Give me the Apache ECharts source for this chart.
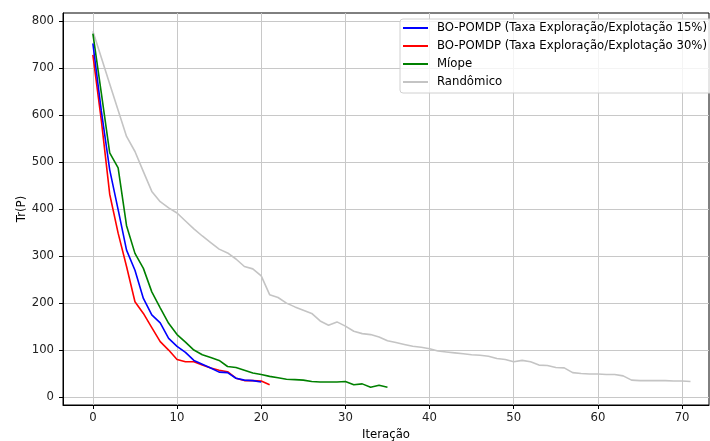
<!DOCTYPE html>
<html>
<head>
<meta charset="utf-8">
<script src="https://cdn.jsdelivr.net/npm/echarts@6/dist/echarts.min.js"></script>
<style>html,body{margin:0;padding:0;background:#fff}#c{width:710px;height:441px}</style>
</head>
<body>
<div id="c"></div>
<script>
const seriesNames = [
  'BO-POMDP (Taxa Exploração/Explotação 15%)',
  'BO-POMDP (Taxa Exploração/Explotação 30%)',
  'Míope',
  'Randômico'
];
const bo15 = [753, 610, 484, 399, 313, 270, 210, 175, 158, 125, 108, 95, 78, 70, 62, 53, 52, 40, 36, 35, 32];
const bo30 = [729, 590, 432, 349, 278, 203, 178, 148, 118, 100, 80, 75, 75, 68, 62, 57, 54, 40, 35, 35, 34, 26];
const miope = [774, 648, 520, 488, 365, 306, 274, 224, 190, 157, 133, 117, 100, 90, 84, 78, 65, 63, 57, 51, 48, 44, 41, 38, 37, 36, 33, 32, 32, 32, 33, 26, 28, 21, 25, 21];
const random = [779, 723, 667, 611, 555, 523, 480, 438, 416, 403, 392, 375, 358, 343, 329, 315, 307, 294, 278, 273, 258, 218, 212, 200, 192, 185, 178, 162, 153, 160, 151, 140, 135, 133, 128, 120, 116, 112, 108, 106, 103, 98, 96, 94, 92, 90, 89, 87, 82, 80, 75, 78, 75, 68, 67, 63, 62, 52, 50, 49, 49, 48, 48, 45, 36, 35, 35, 35, 35, 34, 34, 33];
const xTicks = [0, 10, 20, 30, 40, 50, 60, 70];
const yTicks = [0, 100, 200, 300, 400, 500, 600, 700, 800];
const colors = ['#0000ff', '#ff0000', '#008000', '#c4c4c4'];

function pairs(arr) { return arr.map((v, i) => [i, v]); }
const allData = [bo15, bo30, miope, random];
const font = 'DejaVu Sans';
const fs = 11.7;

const chart = echarts.init(document.getElementById('c'), null, {renderer: 'canvas'});
chart.setOption({
  animation: false,
  backgroundColor: '#fff',
  grid: {left: 63, right: 1, top: 13, bottom: 36, show: true, borderColor: '#000', borderWidth: 1,
         backgroundColor: 'transparent', containLabel: false, outerBoundsMode: 'none'},
  legend: {
    orient: 'vertical', left: 400, top: 19,
    padding: [2, 6, 4, 3],
    itemWidth: 25, itemHeight: 2, itemGap: 4,
    icon: 'rect',
    backgroundColor: 'rgba(255,255,255,0.8)',
    borderColor: '#d0d0d0', borderWidth: 1, borderRadius: 3,
    textStyle: {fontFamily: font, fontSize: fs, color: '#000', lineHeight: 14, padding: [0, 0, 0, 4]},
    data: seriesNames
  },
  xAxis: {
    type: 'value', min: -3.55, max: 73.2,
    name: 'Iteração', nameLocation: 'middle', nameGap: 24, nameMoveOverlap: false,
    nameTextStyle: {fontFamily: font, fontSize: fs, color: '#000'},
    axisLine: {show: true, onZero: false, lineStyle: {color: '#000', width: 1}},
    axisTick: {show: true, inside: false, length: 4, customValues: xTicks, lineStyle: {color: '#000'}},
    axisLabel: {customValues: xTicks, fontFamily: font, fontSize: fs, color: '#222', margin: 7},
    splitLine: {show: true, lineStyle: {color: '#c8c8c8', width: 1}}
  },
  yAxis: {
    type: 'value', min: -17, max: 818,
    name: 'Tr(P)', nameLocation: 'middle', nameGap: 35, nameRotate: 90, nameMoveOverlap: false,
    nameTextStyle: {fontFamily: font, fontSize: fs, color: '#000'},
    axisLine: {show: true, onZero: false, lineStyle: {color: '#000', width: 1}},
    axisTick: {show: true, inside: false, length: 4, customValues: yTicks, lineStyle: {color: '#000'}},
    axisLabel: {customValues: yTicks, fontFamily: font, fontSize: fs, color: '#222', margin: 9},
    splitLine: {show: true, lineStyle: {color: '#c8c8c8', width: 1}}
  },
  series: seriesNames.map((n, i) => ({
    name: n, type: 'line', data: pairs(allData[i]),
    showSymbol: false, symbol: 'none',
    color: colors[i],
    lineStyle: {color: colors[i], width: 1.6},
    z: 10 - i
  }))
});
</script>
</body>
</html>
